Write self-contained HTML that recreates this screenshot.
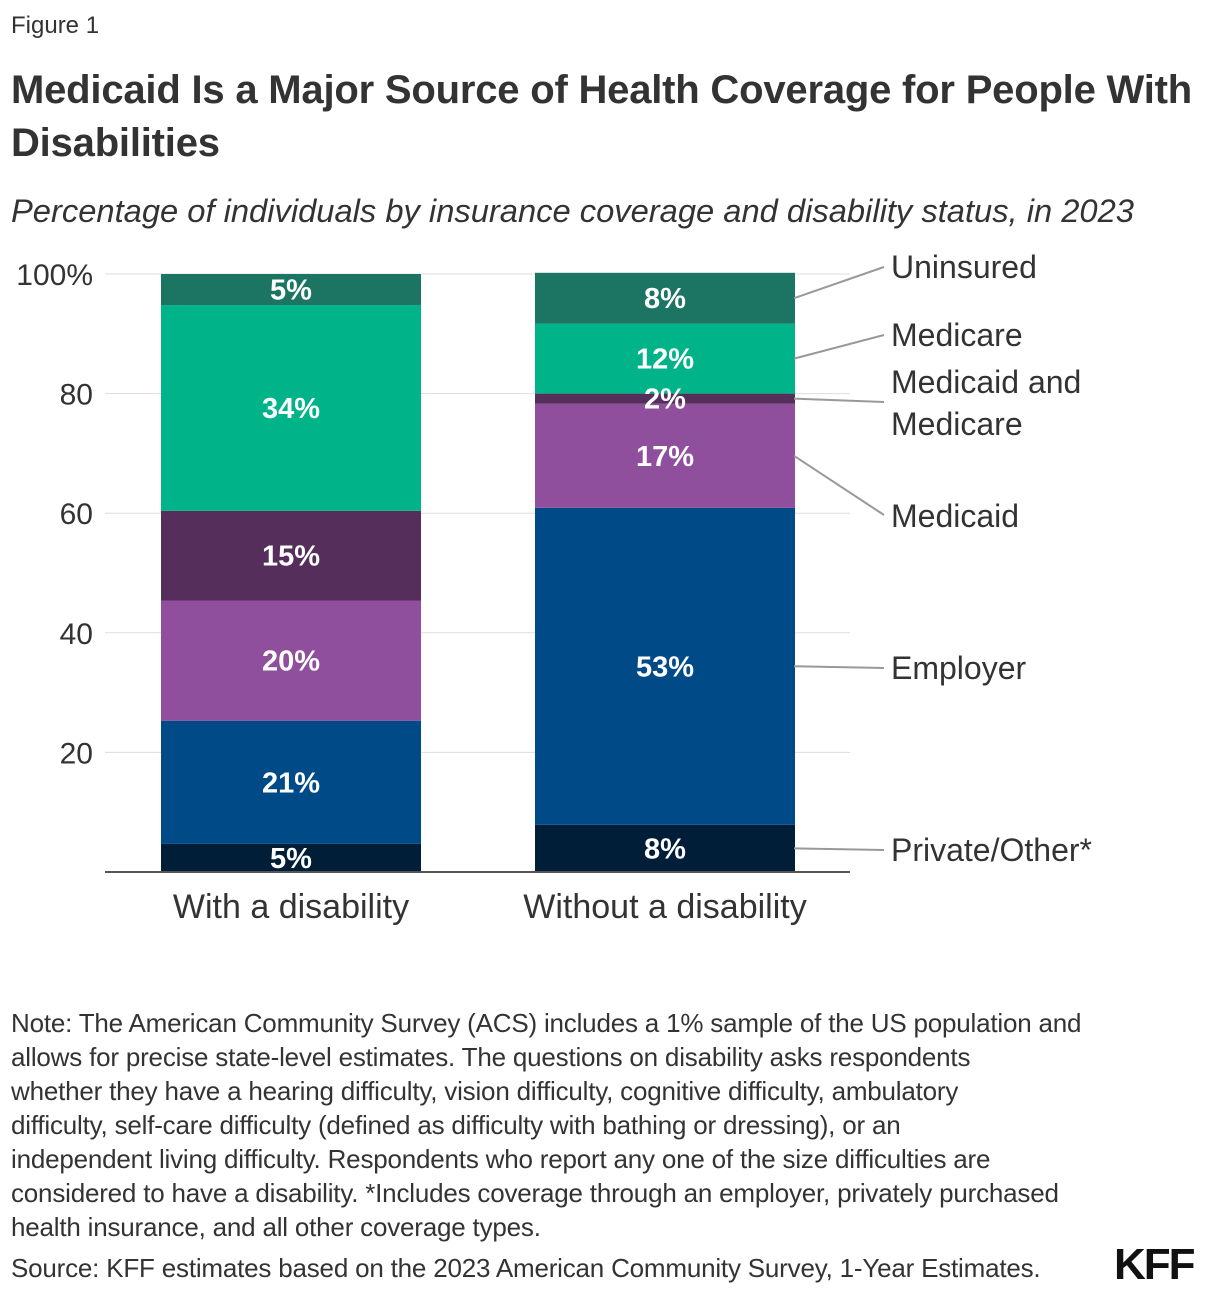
<!DOCTYPE html>
<html><head><meta charset="utf-8">
<style>
body{margin:0;background:#fff;width:1220px;height:1296px;overflow:hidden;font-family:"Liberation Sans",sans-serif;color:#333;}
.t{position:absolute;white-space:nowrap;}
</style></head>
<body>
<div class="t" style="left:11px;top:12px;font-size:24px;color:#333;">Figure 1</div>
<div class="t" style="left:11px;top:64px;font-size:40px;font-weight:bold;line-height:53px;color:#333;letter-spacing:-0.2px;">Medicaid Is a Major Source of Health Coverage for People With<br>Disabilities</div>
<div class="t" style="left:11px;top:192px;font-size:32.7px;font-style:italic;color:#333;">Percentage of individuals by insurance coverage and disability status, in 2023</div>
<svg id="chart" width="1220" height="960" style="position:absolute;left:0;top:0;"></svg>
<div class="t" style="left:11px;top:1006px;font-size:26px;line-height:34px;color:#333;letter-spacing:-0.2px;">Note: The American Community Survey (ACS) includes a 1% sample of the US population and<br>allows for precise state-level estimates. The questions on disability asks respondents<br>whether they have a hearing difficulty, vision difficulty, cognitive difficulty, ambulatory<br>difficulty, self-care difficulty (defined as difficulty with bathing or dressing), or an<br>independent living difficulty. Respondents who report any one of the size difficulties are<br>considered to have a disability. *Includes coverage through an employer, privately purchased<br>health insurance, and all other coverage types.</div>
<div class="t" style="left:11px;top:1253px;font-size:26px;color:#333;letter-spacing:-0.2px;">Source: KFF estimates based on the 2023 American Community Survey, 1-Year Estimates.</div>
<div class="t" style="left:1114px;top:1240px;font-size:44px;font-weight:bold;color:#111;letter-spacing:-2px;">KFF</div>
<script>
const categories=["With a disability","Without a disability"];
const seriesNames=["Private/Other*","Employer","Medicaid","Medicaid and Medicare","Medicare","Uninsured"];
const privateOther=[4.7,7.9];
const employer=[20.6,53.0];
const medicaid=[20.1,17.4];
const medicaidMedicare=[15.0,1.7];
const medicare=[34.4,11.7];
const uninsured=[5.2,8.5];
const printedLabels=[["5%","21%","20%","15%","34%","5%"],["8%","53%","17%","2%","12%","8%"]];
const yTicks=[20,40,60,80,100];
const yTickLabels=["20","40","60","80","100%"];
const colors=["#001e38","#004a87","#8f4f9d","#552e5b","#00b388","#1b7562"];
const svg=document.getElementById('chart');
const NS="http://www.w3.org/2000/svg";
const y0=872,y100=274,plotL=105,plotR=850;
const y=v=>y0-(v/100)*(y0-y100);
const barX=[161,535],barW=260;
function mk(t,a){const e=document.createElementNS(NS,t);for(const k in a)e.setAttribute(k,a[k]);svg.appendChild(e);return e;}
yTicks.forEach((t,i)=>{
 const g=mk('line',{x1:plotL,x2:plotR,y1:y(t),y2:y(t),stroke:'#ddd','stroke-width':1});
 
 
 const tx=mk('text',{x:93,y:y(t)+11,'text-anchor':'end','font-size':30,fill:'#333','font-family':'Liberation Sans'});
 tx.textContent=yTickLabels[i];
 
 
});
const series=[privateOther,employer,medicaid,medicaidMedicare,medicare,uninsured];
const segEnds=[[],[]];
const labelQueue=[];
categories.forEach((c,ci)=>{
 let cum=0;
 series.forEach((s,si)=>{
  const v=s[ci];
  const top=y(cum+v),bot=y(cum);
  const r=mk('rect',{x:barX[ci],y:top,width:barW,height:bot-top,fill:colors[si]});
  
  
  let ly=(top+bot)/2+10;
  if(bot-top<30) ly=Math.min(ly, y0-1);
  labelQueue.push([barX[ci]+barW/2,ly,printedLabels[ci][si]]);
  segEnds[ci].push((top+bot)/2);
  cum+=v;
 });
 const cl=mk('text',{x:barX[ci]+barW/2,y:918,'text-anchor':'middle','font-size':34,fill:'#333','font-family':'Liberation Sans'});
 cl.textContent=c;
 
 
});
labelQueue.forEach(q=>{
 const t=mk('text',{x:q[0],y:q[1],'text-anchor':'middle','font-size':29,'font-weight':'bold',fill:'#fff','font-family':'Liberation Sans'});
 t.textContent=q[2];
 
 
});
const ax=mk('line',{x1:plotL,x2:plotR,y1:y0,y2:y0,stroke:'#555','stroke-width':2});


const legendY=[[850],[668],[516],[382,424],[335],[267]];
const legendLineEnd=[850,668,515,402,335,267];
seriesNames.forEach((n,si)=>{
 const l=mk('line',{x1:794,y1:segEnds[1][si],x2:884,y2:legendLineEnd[si],stroke:'#999','stroke-width':2});
 
 
 const parts=si===3?["Medicaid and","Medicare"]:[n];
 parts.forEach((p,pi)=>{
  const t=mk('text',{x:891,y:legendY[si][pi]+11,'font-size':32,fill:'#333','font-family':'Liberation Sans'});
  t.textContent=p;
  
  
 });
});
</script>
</body></html>
